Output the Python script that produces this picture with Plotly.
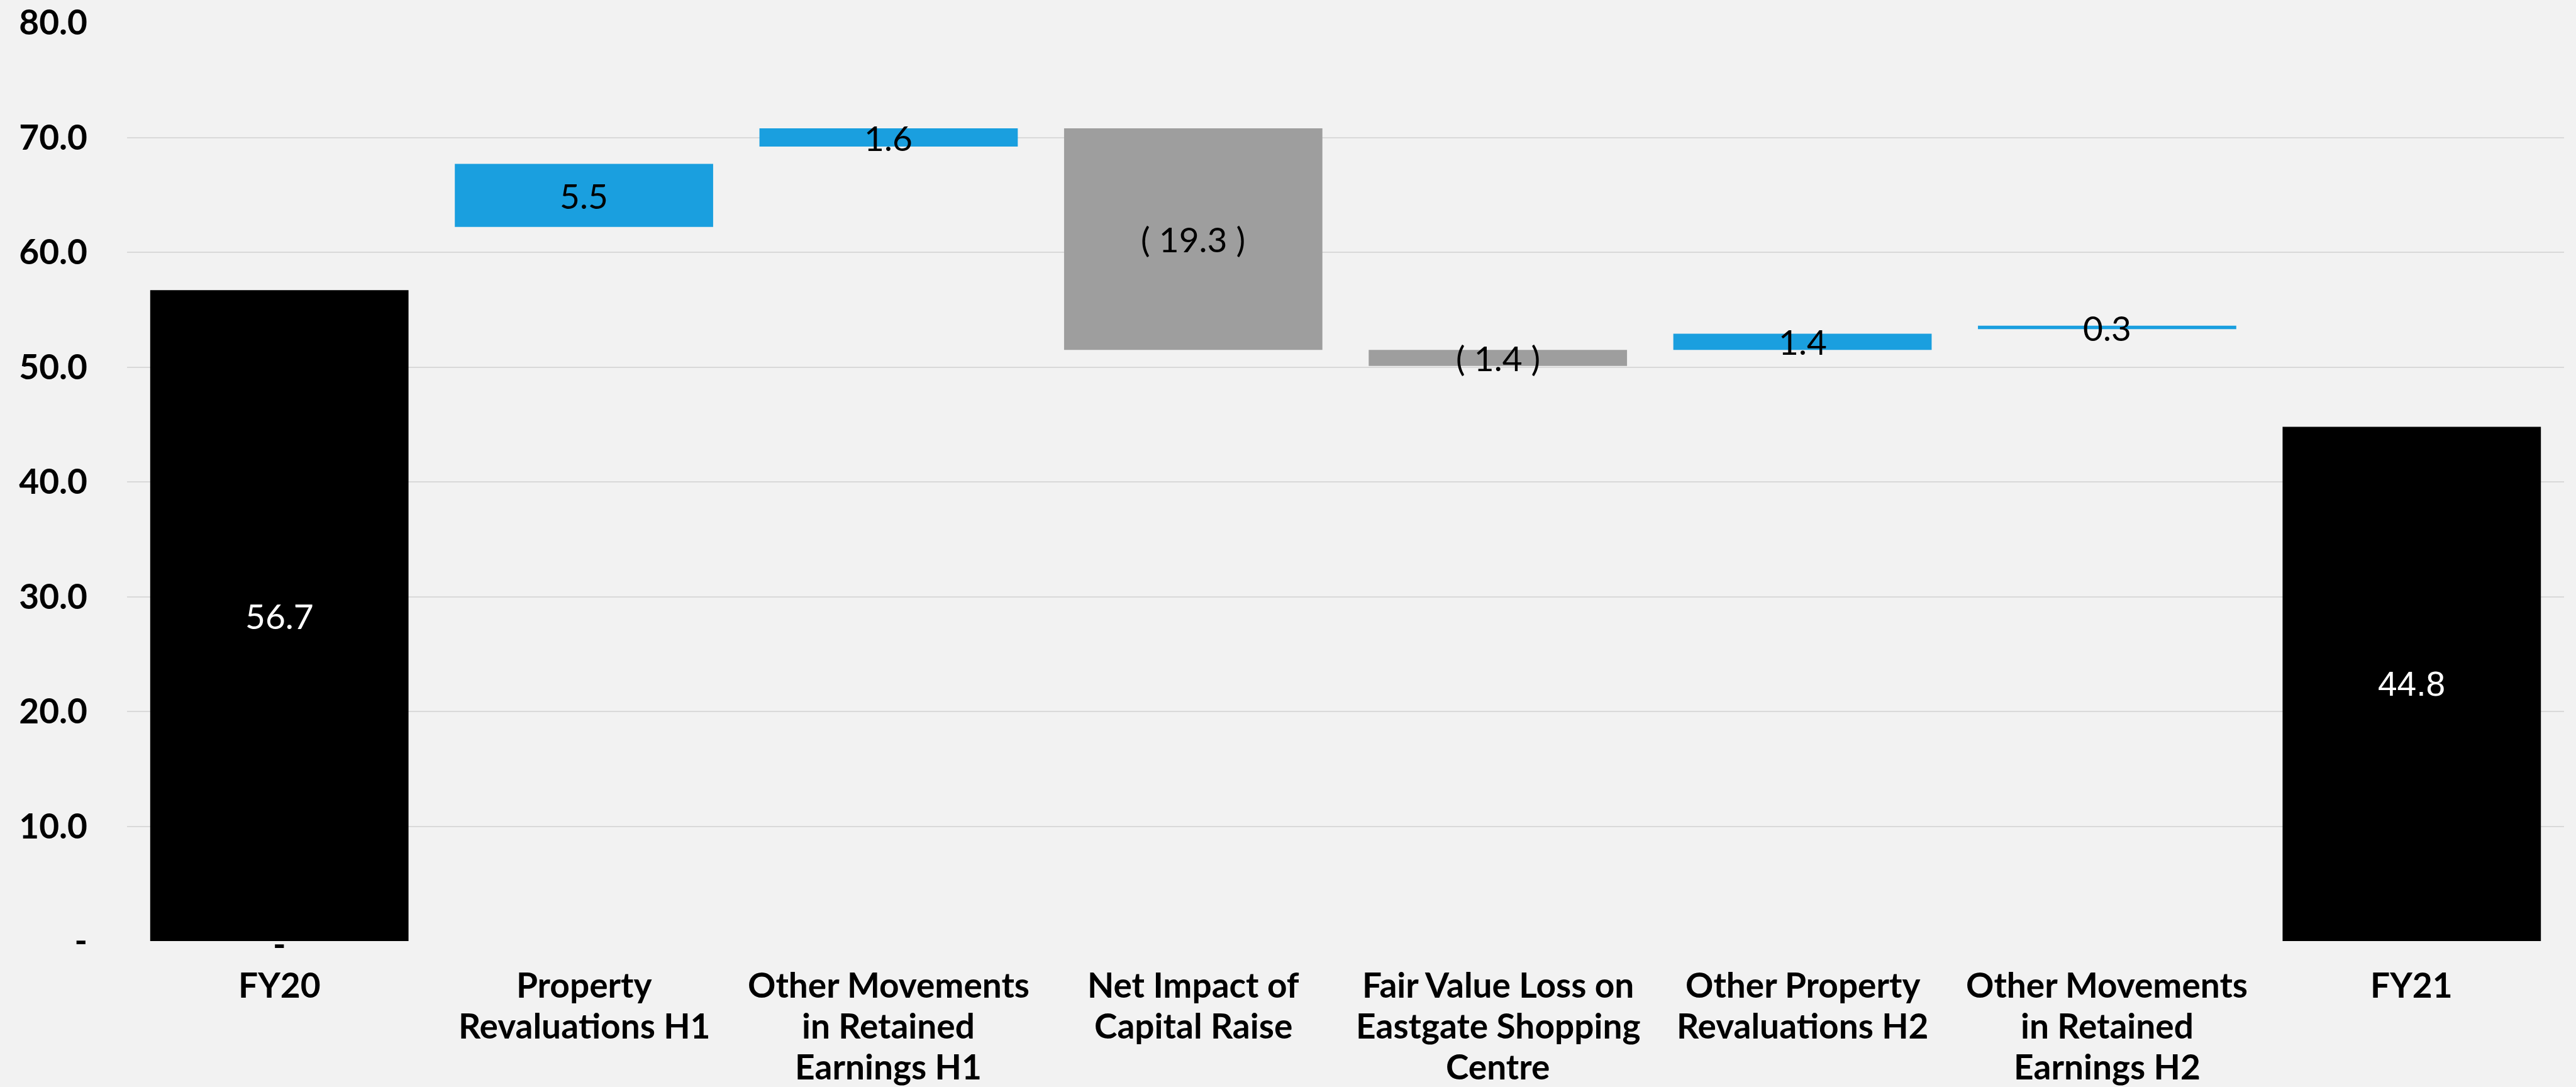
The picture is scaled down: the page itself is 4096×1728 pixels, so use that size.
import plotly.graph_objects as go

# Waterfall steps from FY20 to FY21
categories = [
    "FY20",
    "Property<br>Revaluations H1",
    "Other Movements<br>in Retained<br>Earnings H1",
    "Net Impact of<br>Capital Raise",
    "Fair Value Loss on<br>Eastgate Shopping<br>Centre",
    "Other Property<br>Revaluations H2",
    "Other Movements<br>in Retained<br>Earnings H2",
    "FY21",
]
# signed movement (totals for FY20 / FY21)
values = [56.7, 5.5, 1.6, -19.3, -1.4, 1.4, 0.3, 44.8]
# lower edge of each floating bar
bottoms = [0.0, 62.2, 69.2, 51.5, 50.1, 51.5, 53.3, 0.0]
label_texts = ["56.7", "5.5", "1.6", "( 19.3 )", "( 1.4 )", "1.4", "0.3", "44.8"]
kinds = ["total", "up", "up", "down", "down", "up", "up", "total"]

y_ticks = [0, 10, 20, 30, 40, 50, 60, 70, 80]
y_tick_text = ["-", "10.0", "20.0", "30.0", "40.0", "50.0", "60.0", "70.0", "80.0"]

BG = "#F2F2F2"
GRID = "#D9D9D9"
COLORS = {"total": "#000000", "up": "#1A9FDF", "down": "#9E9E9E"}
FONT = "Lato"
FS = 55
LINE_STEP = 65     # tight line spacing of the category labels
FIRST_LINE = 69    # distance from the zero line to the first label line

x_pos = list(range(len(categories)))
heights = [abs(v) for v in values]

fig = go.Figure()
fig.add_trace(go.Bar(
    x=x_pos,
    y=heights,
    base=bottoms,
    marker=dict(color=[COLORS[k] for k in kinds], line=dict(width=0)),
    hoverinfo="skip",
    showlegend=False,
))

# value labels at the middle of each bar
for i, (b, h, t, k) in enumerate(zip(bottoms, heights, label_texts, kinds)):
    is_total = k == "total"
    fam = FONT
    if i == len(categories) - 1:
        fam = "Liberation Sans"
    fig.add_annotation(
        x=x_pos[i], y=b + h / 2, text=t, showarrow=False,
        font=dict(family=fam, size=FS, color="#FFFFFF" if is_total else "#000000"),
        xanchor="center", yanchor="middle",
    )

# zero marker under the opening bar
fig.add_annotation(
    x=x_pos[0], y=bottoms[0], text="-", showarrow=False,
    font=dict(family=FONT, size=FS, color="#000000", weight="bold"),
    xanchor="center", yanchor="middle", yshift=-4,
)

# category labels, one annotation per line so the line spacing stays tight
for i, label in enumerate(categories):
    for k, line in enumerate(label.split("<br>")):
        fig.add_annotation(
            x=x_pos[i], xref="x", y=0, yref="paper", text=line, showarrow=False,
            font=dict(family=FONT, size=FS, color="#000000", weight="bold"),
            xanchor="center", yanchor="middle",
            yshift=-(FIRST_LINE + LINE_STEP * k),
        )

fig.update_layout(
    width=4096, height=1728, autosize=False,
    margin=dict(l=202, r=19, t=36, b=232, pad=0),
    paper_bgcolor=BG, plot_bgcolor=BG,
    bargap=0.152,
    font=dict(family=FONT, color="#000000"),
)
fig.update_xaxes(
    tickmode="array", tickvals=x_pos, showticklabels=False,
    range=[-0.5, len(categories) - 0.5],
    showgrid=False, zeroline=False, showline=False, ticks="",
    automargin=False,
)
fig.update_yaxes(
    range=[0, 80], tickmode="array", tickvals=y_ticks, ticktext=y_tick_text,
    showgrid=True, gridcolor=GRID, gridwidth=2,
    zeroline=False, showline=False, ticks="",
    tickfont=dict(family=FONT, size=FS, color="#000000", weight="bold"),
    ticklabelstandoff=62, automargin=False,
)

fig.write_html("out.html")
